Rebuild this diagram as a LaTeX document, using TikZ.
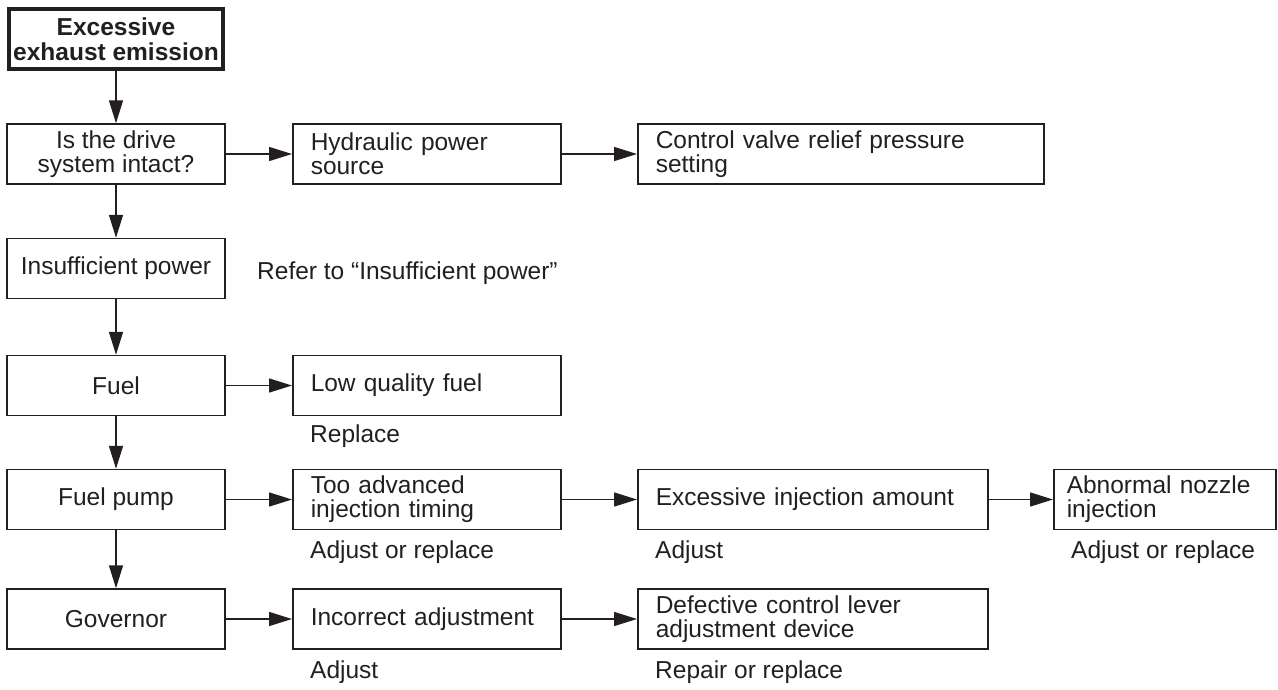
\documentclass[tikz,border=0pt]{standalone}
\usepackage{fontspec}
\setmainfont{Liberation Sans}
\usetikzlibrary{arrows.meta}
\definecolor{ink}{HTML}{231F20}
\begin{document}
\begin{tikzpicture}[x=1pt,y=-1pt,
  every node/.style={font=\fontsize{24.5}{24}\selectfont, text=ink},
  lbox/.style={draw=ink, line width=1.5pt, minimum width=218pt, minimum height=60pt,
    inner xsep=2pt, inner ysep=0pt, align=center},
  rbox/.style={draw=ink, line width=1.5pt, minimum height=60pt, inner xsep=18pt,
    inner ysep=0pt, align=left, anchor=west},
  titlebox/.style={draw=ink, line width=4pt, minimum width=214pt, minimum height=60pt,
    inner xsep=2pt, inner ysep=0pt, align=center, font=\fontsize{24.5}{25}\selectfont\bfseries},
  note/.style={anchor=base west, inner sep=0pt},
  arr/.style={draw=ink, line width=1.5pt, -{Triangle[length=23pt,width=14pt]}}]
\useasboundingbox (0,0) rectangle (1278,689);

% main column
\node[titlebox] (title) at (116,39) {Excessive\\exhaust emission};
\node[lbox] (drive) at (116,154) {Is the drive\\system intact?};
\node[lbox] (insuf) at (116,268.5) {Insufficient power};
\node[lbox] (fuel) at (116,385.5) {Fuel};
\node[lbox] (pump) at (116,499.5) {Fuel pump};
\node[lbox] (gov) at (116,619) {Governor};

% causes
\node[rbox, text width=232pt] (hyd) at (292,154) {Hydraulic power\\source};
\node[rbox, text width=370pt] (valve) at (637,154) {Control valve relief pressure\\setting};
\node[rbox, text width=232pt] (lowq) at (292,385.5) {Low quality fuel};
\node[rbox, text width=232pt] (adv) at (292,499.5) {Too advanced\\injection timing};
\node[rbox, text width=314pt] (inj) at (637,499.5) {Excessive injection amount};
\node[rbox, inner xsep=13pt, text width=196pt] (noz) at (1053,499.5) {Abnormal nozzle\\injection};
\node[rbox, text width=232pt] (incadj) at (292,619) {Incorrect adjustment};
\node[rbox, text width=314pt] (lever) at (637,619) {Defective control lever\\adjustment device};

% remedies
\node[note] (refer) at (257,279) {Refer to “Insufficient power”};
\node[note] (rlowq) at (310,442) {Replace};
\node[note] (radv) at (310,558) {Adjust or replace};
\node[note] (rinj) at (655,558) {Adjust};
\node[note] (rnoz) at (1071,558) {Adjust or replace};
\node[note] (rinc) at (310,678) {Adjust};
\node[note] (rlever) at (655,678) {Repair or replace};

% connectors
\draw[arr] (title) -- (drive);
\draw[arr] (drive) -- (insuf);
\draw[arr] (insuf) -- (fuel);
\draw[arr] (fuel) -- (pump);
\draw[arr] (pump) -- (gov);
\draw[arr] (drive) -- (hyd);
\draw[arr] (hyd) -- (valve);
\draw[arr] (fuel) -- (lowq);
\draw[arr] (pump) -- (adv);
\draw[arr] (adv) -- (inj);
\draw[arr] (inj) -- (noz);
\draw[arr] (gov) -- (incadj);
\draw[arr] (incadj) -- (lever);
\end{tikzpicture}
\end{document}
